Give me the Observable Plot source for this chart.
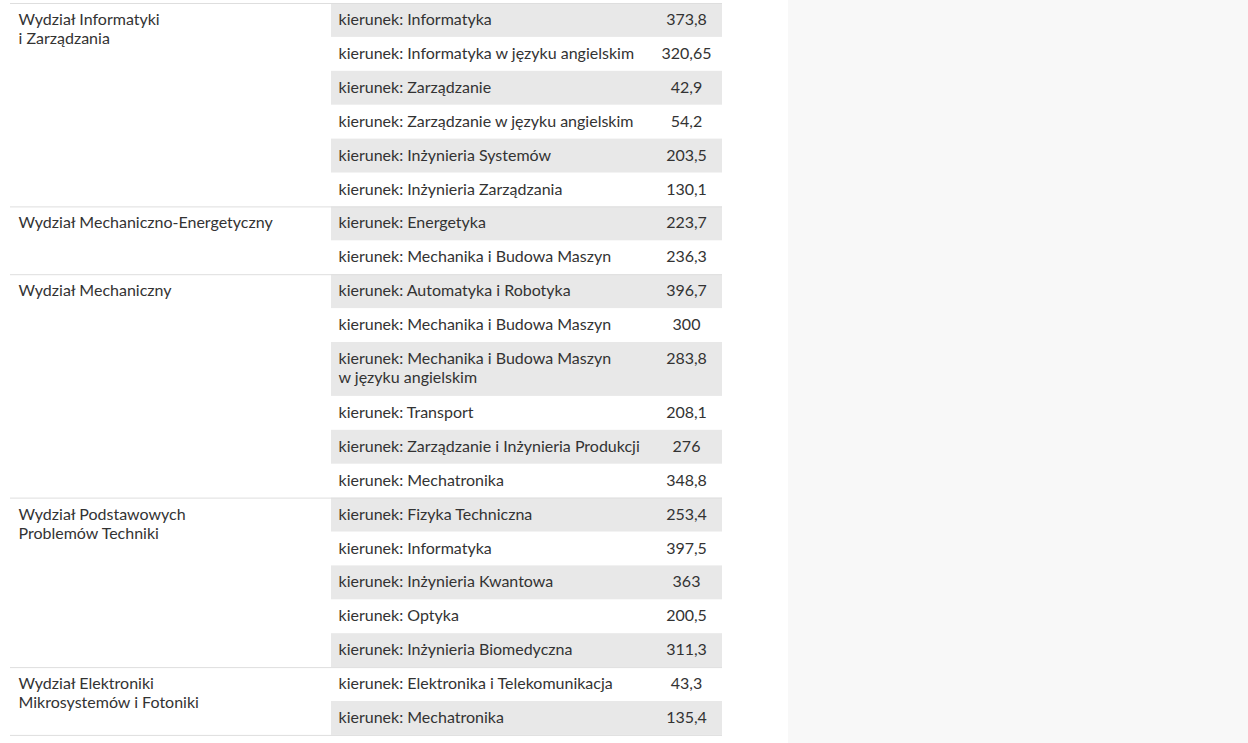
<!DOCTYPE html>
<html><head><meta charset="utf-8">
<script src="https://cdn.jsdelivr.net/npm/d3@7"></script>
<script src="https://cdn.jsdelivr.net/npm/@observablehq/plot@0.6"></script>
<style>
html,body{margin:0;padding:0;}
body{background:linear-gradient(to right,#fff 0,#fff 788px,#f8f8f8 788px);height:743px;overflow:hidden;font-family:Lato,sans-serif;}
#chart svg{display:block;background:transparent;}
</style></head><body><div id="chart"></div>
<script>
const faculties = [
  "Wydział Informatyki\ni Zarządzania",
  "Wydział Mechaniczno-Energetyczny",
  "Wydział Mechaniczny",
  "Wydział Podstawowych\nProblemów Techniki",
  "Wydział Elektroniki\nMikrosystemów i Fotoniki"
];
const programs = [
  "kierunek: Informatyka",
  "kierunek: Informatyka w języku angielskim",
  "kierunek: Zarządzanie",
  "kierunek: Zarządzanie w języku angielskim",
  "kierunek: Inżynieria Systemów",
  "kierunek: Inżynieria Zarządzania",
  "kierunek: Energetyka",
  "kierunek: Mechanika i Budowa Maszyn",
  "kierunek: Automatyka i Robotyka",
  "kierunek: Mechanika i Budowa Maszyn",
  "kierunek: Mechanika i Budowa Maszyn\nw języku angielskim",
  "kierunek: Transport",
  "kierunek: Zarządzanie i Inżynieria Produkcji",
  "kierunek: Mechatronika",
  "kierunek: Fizyka Techniczna",
  "kierunek: Informatyka",
  "kierunek: Inżynieria Kwantowa",
  "kierunek: Optyka",
  "kierunek: Inżynieria Biomedyczna",
  "kierunek: Elektronika i Telekomunikacja",
  "kierunek: Mechatronika"
];
const programFaculty = [0,0,0,0,0,0,1,1,2,2,2,2,2,2,3,3,3,3,3,4,4];
const values = [373.8,320.65,42.9,54.2,203.5,130.1,223.7,236.3,396.7,300,283.8,208.1,276,348.8,253.4,397.5,363,200.5,311.3,43.3,135.4];

const rows = [];
let acc = 0;
programs.forEach((p, i) => {
  const lines = p.split("\n").length;
  const h = 33.9 + 20 * (lines - 1);
  rows.push({i, program: p, label: String(values[i]).replace(".", ","), faculty: programFaculty[i], top: acc, bottom: acc + h});
  acc += h;
});
const total = acc;
const groups = faculties.map((f, k) => {
  const r = rows.filter(d => d.faculty === k);
  return {name: f, top: r[0].top, bottom: r[r.length - 1].bottom};
});
const boundaries = [0, ...groups.map(g => g.bottom)];

const textStyle = {lineAnchor: "top", lineHeight: 1.19, dy: 8, fontSize: 16, fill: "#333", fontFamily: "Lato, sans-serif"};

const chart = Plot.plot({
  width: 788,
  height: 743,
  margin: 0,
  x: {type: "identity"},
  y: {domain: [0, total], range: [3, 3 + total]},
  axis: null,
  style: {background: "transparent"},
  marks: [
    Plot.rect(rows.filter(d => d.i % 2 === 0), {x1: 331, x2: 722, y1: "top", y2: "bottom", fill: "#e8e8e8"}),
    Plot.ruleY(boundaries, {x1: 10, x2: 722, stroke: "#dedede", strokeWidth: 1}),
    Plot.text(groups, {x: 18, y: "top", text: "name", textAnchor: "start", ...textStyle}),
    Plot.text(rows, {x: 338, y: "top", text: "program", textAnchor: "start", ...textStyle}),
    Plot.text(rows, {x: 686, y: "top", text: "label", textAnchor: "middle", ...textStyle})
  ]
});
document.getElementById("chart").append(chart);
</script>
</body></html>
